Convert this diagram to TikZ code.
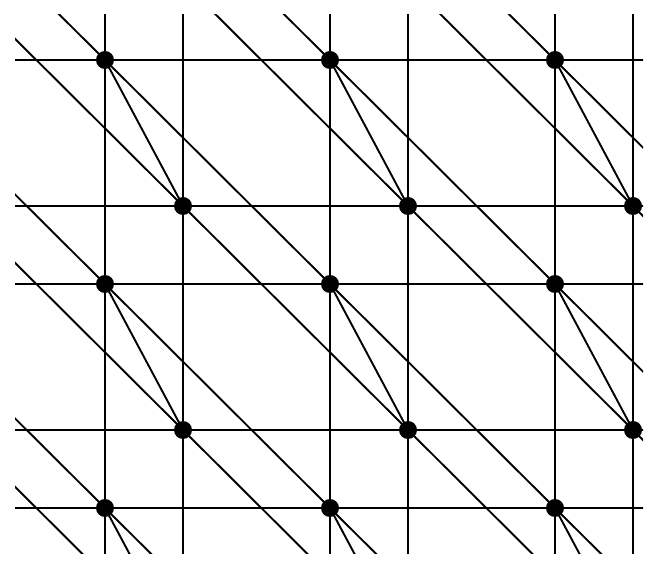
\documentclass[tikz,border=0pt]{standalone}
\usetikzlibrary{calc}
\begin{document}
\begin{tikzpicture}[x=1pt,y=-1pt,
  gridline/.style={line width=1.9pt,black},
  dotnode/.style={circle,fill=black,inner sep=0pt,minimum size=18pt}]
\useasboundingbox (0,0) rectangle (659,569);
% lattice coordinates
\foreach \m in {-1,...,3}{
  \foreach \n in {-1,...,3}{
    \coordinate (a-\m-\n) at ({105+225*\m},{60+224*\n});
    \coordinate (b-\m-\n) at ({183+225*\m},{206+224*\n});
  }
}
\begin{scope}
\clip (15,15) rectangle (643,553);
\foreach \m in {-1,...,3}{
  \draw[gridline] ({105+225*\m},0) -- ({105+225*\m},600);
  \draw[gridline] ({183+225*\m},0) -- ({183+225*\m},600);
}
\foreach \n in {-1,...,3}{
  \draw[gridline] (0,{60+224*\n}) -- (700,{60+224*\n});
  \draw[gridline] (0,{206+224*\n}) -- (700,{206+224*\n});
}
% diagonal lines through every lattice point (each drawn once)
\foreach \m in {-4,...,3}{
  \coordinate (p) at ({105+225*\m},60);
  \coordinate (q) at ({183+225*\m},206);
  \draw[gridline] ($(p)+(-1125,-1120)$) -- ($(p)+(1125,1120)$);
  \draw[gridline] ($(q)+(-1125,-1120)$) -- ($(q)+(1125,1120)$);
}
% steep segments
\foreach \m in {-1,...,3}{
  \foreach \n in {-1,...,3}{
    \draw[gridline] (a-\m-\n) -- (b-\m-\n);
  }
}
\end{scope}
\foreach \m in {0,1,2}{
  \foreach \n in {0,1,2}{
    \node[dotnode] (da-\m-\n) at (a-\m-\n) {};
  }
  \foreach \n in {0,1}{
    \node[dotnode] (db-\m-\n) at (b-\m-\n) {};
  }
}
\end{tikzpicture}
\end{document}
